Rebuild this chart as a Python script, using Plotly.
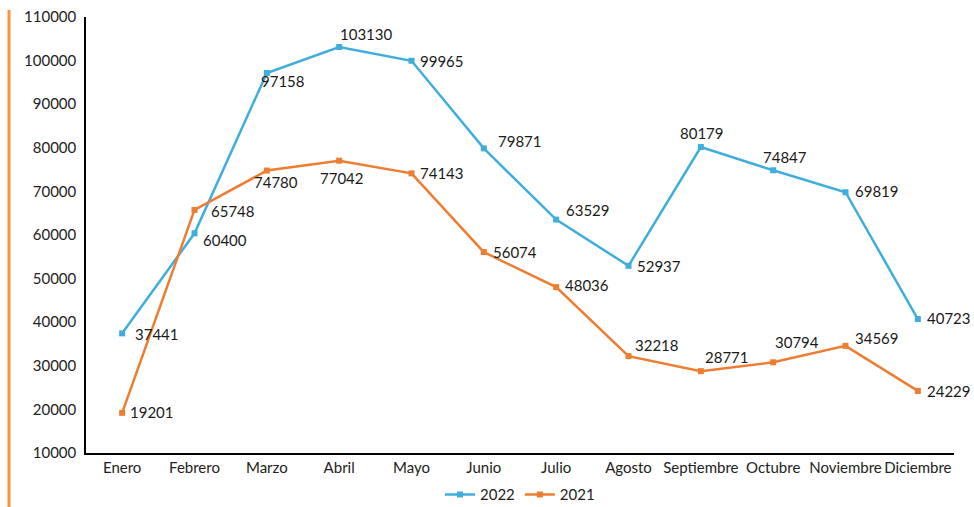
import plotly.graph_objects as go

months = ["Enero", "Febrero", "Marzo", "Abril", "Mayo", "Junio", "Julio",
          "Agosto", "Septiembre", "Octubre", "Noviembre", "Diciembre"]
v2022 = [37441, 60400, 97158, 103130, 99965, 79871, 63529, 52937, 80179, 74847, 69819, 40723]
v2021 = [19201, 65748, 74780, 77042, 74143, 56074, 48036, 32218, 28771, 30794, 34569, 24229]

blue = "#3FAEDD"
orange = "#EE7D31"
font_fam = "Lato, 'Open Sans', sans-serif"

# label offsets (pixels) relative to each point: (xshift, yshift up)
off2022 = [(11, -1), (6, -7), (-8, -8), (-1, 13), (6, 0), (12, 7),
           (8, 10), (6, 0), (-23, 14), (-12, 13), (7, 1), (7, 1)]
off2021 = [(6, 1), (14, -1), (-15, -11), (-21, -17), (6, 0), (7, 0),
           (7, 2), (4, 11), (2, 14), (0, 20), (7, 8), (7, 0)]

fig = go.Figure()
fig.add_trace(go.Scatter(x=months, y=v2022, name="2022", mode="lines+markers",
                         line=dict(color=blue, width=2.5),
                         marker=dict(symbol="square", size=6, color=blue)))
fig.add_trace(go.Scatter(x=months, y=v2021, name="2021", mode="lines+markers",
                         line=dict(color=orange, width=2.5),
                         marker=dict(symbol="square", size=6, color=orange)))

annotations = []
for vals, offs in ((v2022, off2022), (v2021, off2021)):
    for m, v, (dx, dy) in zip(months, vals, offs):
        annotations.append(dict(x=m, y=v, text=str(v), showarrow=False,
                                xanchor="left", yanchor="middle",
                                xshift=dx, yshift=dy,
                                font=dict(size=15, color="#1a1a1a", family=font_fam)))

fig.update_layout(
    width=974, height=507,
    margin=dict(l=86, r=20, t=17, b=54, autoexpand=False),
    paper_bgcolor="white", plot_bgcolor="white",
    font=dict(family=font_fam, size=15, color="#222"),
    xaxis=dict(showgrid=False, showline=True, linecolor="black", linewidth=1.5,
               ticks="", tickfont=dict(size=15), automargin=False, tickangle=0,
               range=[-0.5, 11.5]),
    yaxis=dict(range=[9990, 110010], dtick=10000, tick0=10000, showgrid=False, showline=True,
               linecolor="black", linewidth=1.5, ticks="", zeroline=False,
               tickformat="d", tickfont=dict(size=15), automargin=False,
               ticklabelstandoff=5, ticklabeloverflow="allow"),
    legend=dict(orientation="h", x=0.5, xanchor="center", y=-0.096, yanchor="middle",
                font=dict(size=15)),
    annotations=annotations,
    shapes=[dict(type="line", xref="paper", yref="paper",
                 x0=-0.0887, x1=-0.0887, y0=1.016, y1=-0.13,
                 line=dict(color="#F7943D", width=3))],
    showlegend=True,
)

fig.write_html("out.html",
               config={"displayModeBar": False},
               post_script="document.body.style.margin='0';"
                           "document.documentElement.style.overflow='hidden';"
                           "document.body.style.overflow='hidden';")
